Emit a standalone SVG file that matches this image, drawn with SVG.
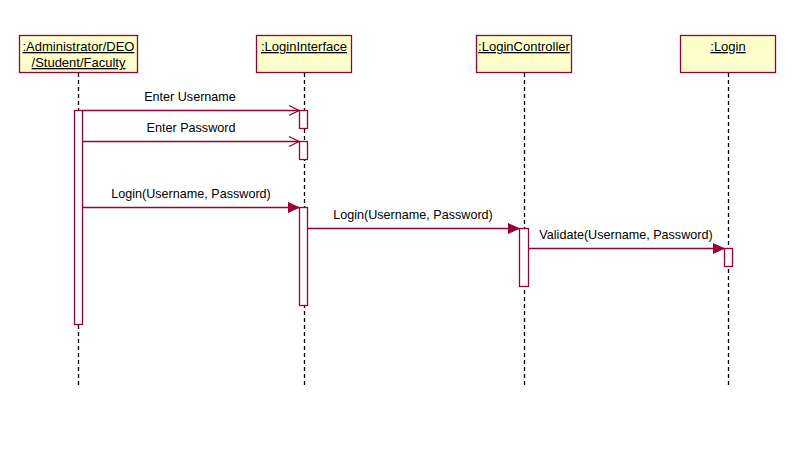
<svg xmlns="http://www.w3.org/2000/svg" width="812" height="461" viewBox="0 0 812 461">
<style>
.box{fill:#FFFFCC;stroke:#990033;stroke-width:1.3}
.bar{fill:#FFFFFF;stroke:#990033;stroke-width:1.3}
.life{stroke:#000;stroke-width:1.3;stroke-dasharray:4,3;fill:none}
.msg{stroke:#990033;stroke-width:1.3;fill:none}
.t{font-family:"Liberation Sans",Arial,sans-serif;font-size:12.6px;fill:#000}
.h{font-size:13px;text-decoration:underline}
</style>
<defs>
<marker id="open" markerWidth="12" markerHeight="12" refX="11" refY="6" orient="auto" markerUnits="userSpaceOnUse">
<path d="M1,1 L11,6 L1,11" fill="none" stroke="#990033" stroke-width="1.2"/>
</marker>
<marker id="filled" markerWidth="12" markerHeight="12" refX="11" refY="6" orient="auto" markerUnits="userSpaceOnUse">
<path d="M0,1 L11,6 L0,11 Z" fill="#990033" stroke="#990033" stroke-width="1"/>
</marker>
</defs>
<rect width="812" height="461" fill="#fff"/>
<g id="lifelines">
<line class="life" x1="78.5" y1="73" x2="78.5" y2="388"/>
<line class="life" x1="304.5" y1="73" x2="304.5" y2="388"/>
<line class="life" x1="524.5" y1="73" x2="524.5" y2="388"/>
<line class="life" x1="728.5" y1="73" x2="728.5" y2="388"/>
</g>
<g id="actor">
<rect class="box" x="19.5" y="35.5" width="118" height="37"/>
<text class="t h" x="78.5" y="51" text-anchor="middle">:Administrator/DEO</text>
<text class="t h" x="78.5" y="67" text-anchor="middle">/Student/Faculty</text>
<rect class="bar" x="74.5" y="110.5" width="8" height="214"/>
</g>
<g id="loginInterface">
<rect class="box" x="256.5" y="35.5" width="95" height="37"/>
<text class="t h" x="304" y="51" text-anchor="middle">:LoginInterface</text>
<rect class="bar" x="299.5" y="110.5" width="8" height="18"/>
<rect class="bar" x="299.5" y="141.5" width="8" height="18"/>
<rect class="bar" x="299.5" y="207.5" width="8" height="98"/>
</g>
<g id="loginController">
<rect class="box" x="476.5" y="35.5" width="95" height="37"/>
<text class="t h" x="524" y="51" text-anchor="middle">:LoginController</text>
<rect class="bar" x="519.5" y="228.5" width="9" height="58"/>
</g>
<g id="login">
<rect class="box" x="680.5" y="35.5" width="95" height="37"/>
<text class="t h" x="728" y="51" text-anchor="middle">:Login</text>
<rect class="bar" x="724.5" y="248.5" width="8" height="18"/>
</g>
<g id="connectors">
<line class="msg" x1="82.5" y1="110.5" x2="299" y2="110.5" marker-end="url(#open)"/>
<text class="t" x="190" y="101" text-anchor="middle">Enter Username</text>
<line class="msg" x1="82.5" y1="141.5" x2="299" y2="141.5" marker-end="url(#open)"/>
<text class="t" x="191" y="132" text-anchor="middle">Enter Password</text>
<line class="msg" x1="82.5" y1="207.5" x2="299" y2="207.5" marker-end="url(#filled)"/>
<text class="t" x="191" y="198" text-anchor="middle">Login(Username, Password)</text>
<line class="msg" x1="307.5" y1="228.5" x2="519" y2="228.5" marker-end="url(#filled)"/>
<text class="t" x="413" y="219" text-anchor="middle">Login(Username, Password)</text>
<line class="msg" x1="528.5" y1="248.5" x2="724" y2="248.5" marker-end="url(#filled)"/>
<text class="t" x="626" y="239" text-anchor="middle">Validate(Username, Password)</text>
</g>
</svg>
